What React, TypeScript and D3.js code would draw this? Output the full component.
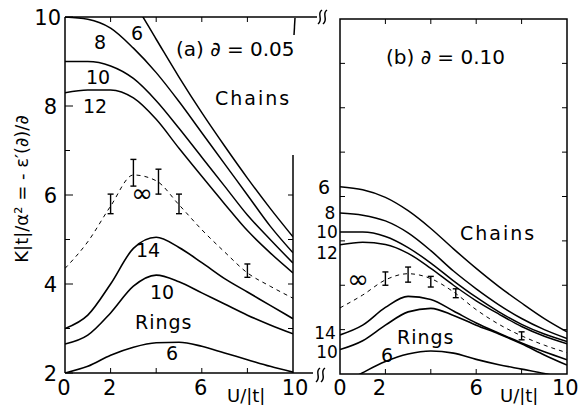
import React from "react";
import * as d3 from "d3";

// ---------- data (U/|t| , K|t|/alpha^2) ----------
const uGrid = [0, 1, 2, 3, 4, 5, 6, 7, 8, 9, 10];

// panel (a) delta = 0.05
const aChain6 = [11.8, 11.6, 11.1, 10.35, 9.5, 8.65, 7.85, 7.1, 6.38, 5.7, 5.06];
const aChain8 = [10.0, 9.95, 9.75, 9.3, 8.75, 8.1, 7.4, 6.7, 6.0, 5.3, 4.7];
const aChain10 = [9.0, 9.0, 8.9, 8.62, 8.12, 7.5, 6.85, 6.2, 5.55, 5.0, 4.47];
const aChain12 = [8.3, 8.36, 8.36, 8.18, 7.7, 7.05, 6.42, 5.8, 5.2, 4.7, 4.25];
const aInfinity = [4.35, 4.95, 5.75, 6.45, 6.32, 5.78, 5.22, 4.72, 4.25, 3.95, 3.68];
const aRing14 = [3.0, 3.3, 4.0, 4.8, 5.05, 4.82, 4.48, 4.12, 3.82, 3.52, 3.22];
const aRing10 = [2.65, 2.85, 3.35, 3.95, 4.2, 4.05, 3.8, 3.55, 3.3, 3.08, 2.88];
const aRing6 = [2.0, 2.15, 2.4, 2.58, 2.68, 2.69, 2.6, 2.45, 2.3, 2.15, 2.02];

const aErrU = [2, 3, 4.1, 5, 8];
const aErrMid = [5.8, 6.5, 6.3, 5.8, 4.3];
const aErrHalf = [0.22, 0.3, 0.28, 0.22, 0.15];

// panel (b) delta = 0.10
const bChain6 = [6.22, 6.15, 5.98, 5.68, 5.28, 4.82, 4.38, 3.97, 3.6, 3.25, 2.95];
const bChain8 = [5.63, 5.58, 5.45, 5.18, 4.78, 4.32, 3.92, 3.56, 3.25, 3.0, 2.8];
const bChain10 = [5.2, 5.2, 5.1, 4.85, 4.5, 4.1, 3.73, 3.4, 3.12, 2.9, 2.73];
const bChain12 = [4.91, 4.97, 4.92, 4.72, 4.38, 4.0, 3.65, 3.35, 3.07, 2.85, 2.68];
const bInfinity = [3.49, 3.78, 4.12, 4.26, 4.15, 3.85, 3.45, 3.12, 2.86, 2.65, 2.48];
const bRing14 = [2.88, 3.1, 3.5, 3.75, 3.68, 3.42, 3.15, 2.92, 2.7, 2.5, 2.32];
const bRing10 = [2.55, 2.75, 3.1, 3.4, 3.48, 3.32, 3.1, 2.9, 2.68, 2.43, 2.2];
const bRing6 = [1.75, 2.03, 2.28, 2.45, 2.52, 2.47, 2.33, 2.21, 2.11, 2.01, 1.9];

const bErrU = [2, 3, 4, 5.1, 8];
const bErrMid = [4.15, 4.24, 4.08, 3.82, 2.86];
const bErrHalf = [0.15, 0.17, 0.12, 0.1, 0.09];

const xTickLabels = ["0", "2", "6", "10"];
const yTickLabels = ["10", "8", "6", "4", "2"];
const minorTicksU = [2, 4, 6, 8];
const yInts = [3, 4, 5, 6, 7, 8, 9];

// ---------- layout ----------
const W = 585;
const H = 405;
const FONT = "'DejaVu Sans', sans-serif";

const xA = d3.scaleLinear().domain([0, 10]).range([65, 293]);
const yA = d3.scaleLinear().domain([2, 10]).range([373, 17]);
const xB = d3.scaleLinear().domain([0, 10]).range([340, 567]);
const yB = d3.scaleLinear().domain([2, 10]).range([374, 19]);

function pathFor(vals: number[], x: any, y: any) {
  const line = d3
    .line<number>()
    .x((_, i) => x(uGrid[i]))
    .y((v) => y(v))
    .curve(d3.curveMonotoneX);
  return line(vals) || "";
}

function squiggle(cx: number, cy: number) {
  return `M${cx + 2},${cy - 7} C${cx - 4},${cy - 3} ${cx + 4},${cy + 2} ${cx - 2},${cy + 7}`;
}

const Curves = ({ x, y, chains, rings, inf, clip }: any) => (
  <g clipPath={`url(#${clip})`} fill="none" stroke="#000">
    {chains.map((c: number[], i: number) => (
      <path key={"c" + i} d={pathFor(c, x, y)} strokeWidth={1.5} />
    ))}
    {rings.map((c: number[], i: number) => (
      <path key={"r" + i} d={pathFor(c, x, y)} strokeWidth={1.6} />
    ))}
    <path d={pathFor(inf, x, y)} strokeWidth={1} strokeDasharray="4,4" />
  </g>
);

const ErrBars = ({ x, y, us, mids, halves }: any) => (
  <g stroke="#000" strokeWidth={1.4}>
    {us.map((u: number, i: number) => {
      const px = x(u);
      const top = y(mids[i] + halves[i]);
      const bot = y(mids[i] - halves[i]);
      return (
        <g key={i}>
          <line x1={px} x2={px} y1={top} y2={bot} />
          <line x1={px - 3} x2={px + 3} y1={top} y2={top} />
          <line x1={px - 3} x2={px + 3} y1={bot} y2={bot} />
        </g>
      );
    })}
  </g>
);

export default function App() {
  const txt = { fontFamily: FONT, fontSize: 19, fill: "#000" } as any;
  return (
    <svg
      width={W}
      height={H}
      style={{ position: "absolute", left: 0, top: 0, background: "#fff" }}
    >
      <defs>
        <clipPath id="clipA">
          <rect x={65} y={17} width={228} height={356} />
        </clipPath>
        <clipPath id="clipB">
          <rect x={340} y={19} width={227} height={355} />
        </clipPath>
      </defs>
      <rect width={W} height={H} fill="#fff" />

      {/* ---------- panel (a) ---------- */}
      <g stroke="#000" strokeWidth={1.5} fill="none">
        <line x1={65} x2={65} y1={17} y2={373} />
        <line x1={65} x2={317} y1={17} y2={17} />
        <line x1={65} x2={313} y1={373} y2={373} />
        <line x1={xA(10)} x2={xA(10)} y1={155} y2={373} />
        <line x1={xA(10) + 2} x2={xA(10) + 1} y1={18} y2={35} />
        <path d={squiggle(320, 17)} />
        <path d={squiggle(325, 17)} />
        <path d={squiggle(318, 375)} />
        <path d={squiggle(323, 375)} />
      </g>
      <g stroke="#000" strokeWidth={1}>
        {yInts.concat([10, 2]).map((v) => (
          <line key={"al" + v} x1={65} x2={v % 2 === 0 ? 73 : 70} y1={yA(v)} y2={yA(v)} />
        ))}
        {[3, 4, 5, 6].map((v) => (
          <line key={"ar" + v} x1={xA(10)} x2={xA(10) - 5} y1={yA(v)} y2={yA(v)} />
        ))}
        {minorTicksU.map((u) => (
          <g key={"at" + u}>
            <line x1={xA(u)} x2={xA(u)} y1={17} y2={22} />
            <line x1={xA(u)} x2={xA(u)} y1={373} y2={368} />
          </g>
        ))}
      </g>
      <Curves
        x={xA}
        y={yA}
        clip="clipA"
        chains={[aChain6, aChain8, aChain10, aChain12]}
        rings={[aRing14, aRing10, aRing6]}
        inf={aInfinity}
      />
      <ErrBars x={xA} y={yA} us={aErrU} mids={aErrMid} halves={aErrHalf} />

      {/* ---------- panel (b) ---------- */}
      <rect x={340} y={19} width={227} height={355} fill="none" stroke="#000" strokeWidth={1.5} />
      <g stroke="#000" strokeWidth={1}>
        {yInts.map((v) => (
          <g key={"bl" + v}>
            <line x1={340} x2={345} y1={yB(v)} y2={yB(v)} />
            <line x1={567} x2={562} y1={yB(v)} y2={yB(v)} />
          </g>
        ))}
        {minorTicksU.map((u) => (
          <g key={"bt" + u}>
            <line x1={xB(u)} x2={xB(u)} y1={19} y2={24} />
            <line x1={xB(u)} x2={xB(u)} y1={374} y2={369} />
          </g>
        ))}
      </g>
      <Curves
        x={xB}
        y={yB}
        clip="clipB"
        chains={[bChain6, bChain8, bChain10, bChain12]}
        rings={[bRing14, bRing10, bRing6]}
        inf={bInfinity}
      />
      <ErrBars x={xB} y={yB} us={bErrU} mids={bErrMid} halves={bErrHalf} />

      {/* ---------- tick labels ---------- */}
      <g {...txt} fontSize={21}>
        {yTickLabels.map((t) => (
          <text key={"yl" + t} x={t === "10" ? 61 : 57} y={yA(+t) + 8} textAnchor="end">
            {t}
          </text>
        ))}
        {xTickLabels.map((t) => (
          <g key={"xl" + t}>
            <text x={xA(+t) + (t === "10" ? 2 : -1)} y={395} textAnchor="middle">
              {t}
            </text>
            <text
              x={t === "10" ? 552 : xB(+t) - (t === "2" ? 6 : 0)}
              y={395}
              textAnchor={t === "10" ? "start" : "middle"}
            >
              {t}
            </text>
          </g>
        ))}
      </g>
      <text {...txt} fontSize={18} x={227} y={402}>U/|t|</text>
      <text {...txt} fontSize={18} x={500} y={402}>U/|t|</text>

      {/* y axis title */}
      <text
        {...txt}
        fontSize={18}
        transform="translate(28,189) rotate(-90)"
        textAnchor="middle"
      >
        K|t|/α² = - ε′(∂)/∂
      </text>

      {/* ---------- panel (a) annotations ---------- */}
      <g {...txt}>
        <text x={176} y={56} fontSize={20}>(a)  ∂ = 0.05</text>
        <text x={215} y={105} letterSpacing={2}>Chains</text>
        <text x={137} y={40} textAnchor="middle">6</text>
        <text x={100} y={49} textAnchor="middle">8</text>
        <text x={98} y={84} textAnchor="middle">10</text>
        <text x={95} y={113} textAnchor="middle">12</text>
        <text x={148} y={257} textAnchor="middle">14</text>
        <text x={162} y={299} textAnchor="middle">10</text>
        <text x={135} y={329} letterSpacing={1}>Rings</text>
        <text x={172} y={360} textAnchor="middle">6</text>
        <text x={142} y={202} textAnchor="middle" fontSize={26}>∞</text>
      </g>

      {/* ---------- panel (b) annotations ---------- */}
      <g {...txt}>
        <text x={386} y={64} fontSize={20}>(b)   ∂ = 0.10</text>
        <text x={460} y={240} letterSpacing={2}>Chains</text>
        <text x={324} y={194} textAnchor="middle">6</text>
        <text x={330} y={219} textAnchor="middle" fontSize={17}>8</text>
        <text x={327} y={238} textAnchor="middle" fontSize={17}>10</text>
        <text x={327} y={259} textAnchor="middle" fontSize={17}>12</text>
        <text x={325} y={339} textAnchor="middle" fontSize={17}>14</text>
        <text x={327} y={358} textAnchor="middle" fontSize={17}>10</text>
        <text x={387} y={362} textAnchor="middle">6</text>
        <text x={397} y={344} letterSpacing={1}>Rings</text>
        <text x={358} y={288} textAnchor="middle" fontSize={26}>∞</text>
      </g>
    </svg>
  );
}
